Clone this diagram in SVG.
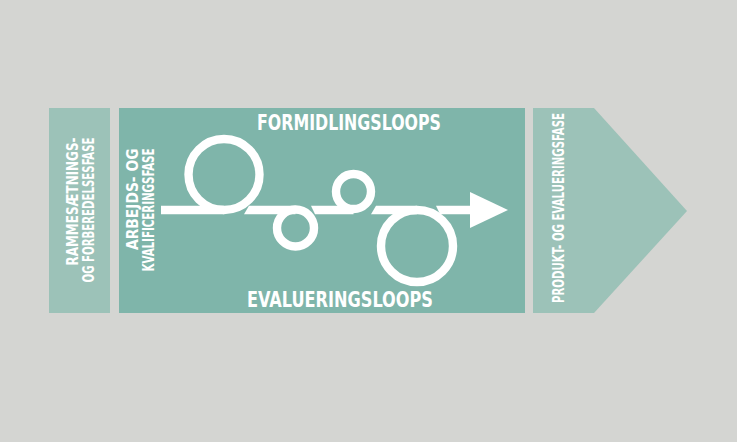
<svg xmlns="http://www.w3.org/2000/svg" width="737" height="442" viewBox="0 0 737 442">
<style>
.bg{fill:#d4d5d2}
.light{fill:#9cc2b8}
.main{fill:#7fb5aa}
.t{fill:#ffffff;font-family:"DejaVu Sans","Liberation Sans",sans-serif;font-weight:bold;font-stretch:condensed}
.v{font-size:15.5px}
.h{font-size:22px}
.loop{fill:none;stroke:#ffffff;stroke-width:8.4}
.seg{fill:#ffffff}
</style>
<rect class="bg" x="0" y="0" width="737" height="442"/>
<g id="rammesaetning">
<rect class="light" x="49" y="108" width="61" height="205"/>
<text class="t v" transform="translate(77.5,137.5) rotate(-90)" text-anchor="end" textLength="128" lengthAdjust="spacingAndGlyphs">RAMMESÆTNINGS-</text>
<text class="t v" transform="translate(93.5,137.5) rotate(-90)" text-anchor="end" textLength="145" lengthAdjust="spacingAndGlyphs">OG FORBEREDELSESFASE</text>
</g>
<g id="arbejdsfase">
<rect class="main" x="119" y="108" width="406" height="205"/>
<text class="t v" transform="translate(138,148.5) rotate(-90)" text-anchor="end" textLength="101.5" lengthAdjust="spacingAndGlyphs">ARBEJDS- OG</text>
<text class="t v" transform="translate(153.5,148.5) rotate(-90)" text-anchor="end" textLength="123" lengthAdjust="spacingAndGlyphs">KVALIFICERINGSFASE</text>
<text class="t h" x="257" y="130" textLength="184" lengthAdjust="spacingAndGlyphs">FORMIDLINGSLOOPS</text>
<text class="t h" x="247" y="307" textLength="186" lengthAdjust="spacingAndGlyphs">EVALUERINGSLOOPS</text>
</g>
<g id="produktfase">
<polygon class="light" points="533,108 594,108 687,211 594,313 533,313"/>
<text class="t v" transform="translate(564,113) rotate(-90)" text-anchor="end" textLength="190" lengthAdjust="spacingAndGlyphs">PRODUKT- OG EVALUERINGSFASE</text>
</g>
<g id="connectors">
<polygon class="seg" points="161,205.8 224,205.8 224,214.2 161,214.2"/>
<circle class="loop" cx="224" cy="174.5" r="35.5"/>
<polygon class="seg" points="249,205.8 295.5,205.8 295.5,214.2 244,214.2"/>
<circle class="loop" cx="295.5" cy="228" r="18.5"/>
<polygon class="seg" points="311,205.8 353.5,205.8 353.5,214.2 315,214.2"/>
<circle class="loop" cx="353.5" cy="191.5" r="17.5"/>
<polygon class="seg" points="376,205.8 417,205.8 417,214.2 371,214.2"/>
<circle class="loop" cx="417" cy="246" r="36"/>
<polygon class="seg" points="436,205.8 472,205.8 472,214.2 440,214.2"/>
<polygon class="seg" points="470,192 508,210 470,228"/>
</g>
</svg>
